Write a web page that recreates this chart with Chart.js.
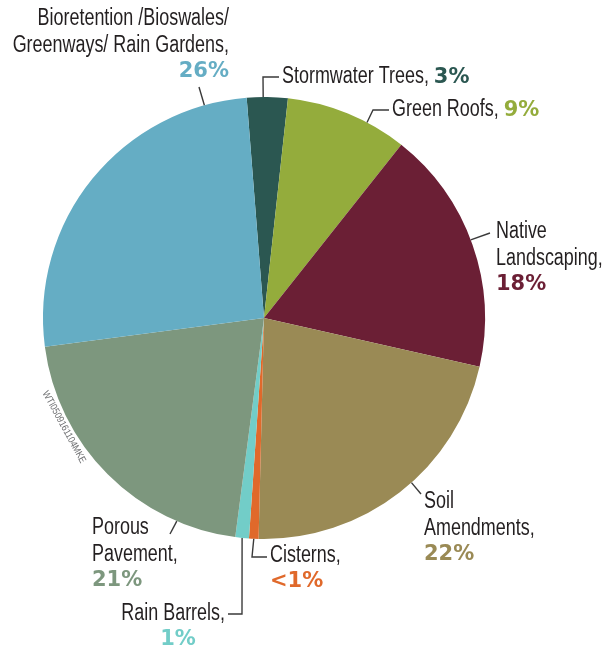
<!DOCTYPE html>
<html>
<head>
<meta charset="utf-8">
<script src="https://cdn.jsdelivr.net/npm/chart.js@4.4.1/dist/chart.umd.min.js"></script>
<style>
  html, body { margin: 0; padding: 0; background: #ffffff; }
  #wrap { position: relative; width: 605px; height: 656px; }
  canvas { display: block; }
</style>
</head>
<body>
<div id="wrap"><canvas id="pie" width="605" height="656"></canvas></div>
<script>
// Green infrastructure practices — share of total
const categories = [
  'Stormwater Trees',
  'Green Roofs',
  'Native Landscaping',
  'Soil Amendments',
  'Cisterns',
  'Rain Barrels',
  'Porous Pavement',
  'Bioretention /Bioswales/ Greenways/ Rain Gardens'
];
const shares = [3, 9, 18, 22, 0.7, 1, 21, 26];
const shareLabels = ['3%', '9%', '18%', '22%', '<1%', '1%', '21%', '26%'];
const sliceColors = ['#2b5751', '#94ac3c', '#6b1f35', '#9a8a55', '#e0692b', '#72cdc8', '#7d977e', '#65adc4'];

// Callout layout: text lines, where the leader leaves the slice (fraction of its arc),
// the leader's bend points and the text anchor.
const callouts = [
  { lines: ['Stormwater Trees,'], inline: true, at: 0.4,
    path: [[263, 77], [279, 77]], x: 282, y: 77, align: 'left' },
  { lines: ['Green Roofs,'], inline: true, at: 0.67,
    path: [[373, 110], [389, 110]], x: 392, y: 110, align: 'left' },
  { lines: ['Native', 'Landscaping,'], at: 0.48,
    path: [[490, 233]], x: 496, y: 232, align: 'left' },
  { lines: ['Soil', 'Amendments,'], at: 0.45,
    path: [[421, 494]], x: 424, y: 502, align: 'left' },
  { lines: ['Cisterns,'], at: 0.5,
    path: [[252, 557], [267, 557]], x: 270, y: 556, align: 'left' },
  { lines: ['Rain Barrels,'], at: 0.5, pctX: 178,
    path: [[242, 614], [228, 614]], x: 225, y: 614, align: 'right' },
  { lines: ['Porous', 'Pavement,'], at: 0.21,
    path: [[170, 534]], x: 92, y: 528, align: 'left' },
  { lines: ['Bioretention /Bioswales/', 'Greenways/ Rain Gardens,'], at: 0.88,
    path: [[199, 87]], x: 229, y: 19, align: 'right' }
];

const TEXT_FONT = '23px "Liberation Sans", Arial, sans-serif';
const PCT_FONT = 'bold 21px "DejaVu Sans", sans-serif';
const NARROW = 0.78;   // horizontal squeeze for the condensed label face
const LINE_H = 27;

// draw text squeezed horizontally; returns the drawn width
function narrowText(ctx, text, x, y, align, sx) {
  const w = ctx.measureText(text).width * sx;
  let left = x;
  if (align === 'right') left = x - w;
  else if (align === 'center') left = x - w / 2;
  ctx.save();
  ctx.translate(left, y);
  ctx.scale(sx, 1);
  ctx.textAlign = 'left';
  ctx.fillText(text, 0, 0);
  ctx.restore();
  return w;
}

const calloutPlugin = {
  id: 'callouts',
  afterDatasetsDraw(chart) {
    const ctx = chart.ctx;
    const meta = chart.getDatasetMeta(0);
    ctx.save();
    ctx.textBaseline = 'middle';
    meta.data.forEach((arc, i) => {
      const c = callouts[i];
      const p = arc.getProps(['x', 'y', 'startAngle', 'endAngle', 'outerRadius'], true);
      const a = p.startAngle + (p.endAngle - p.startAngle) * c.at;
      const sx = p.x + Math.cos(a) * p.outerRadius;
      const sy = p.y + Math.sin(a) * p.outerRadius;

      // leader line
      ctx.beginPath();
      ctx.moveTo(sx, sy);
      c.path.forEach(pt => ctx.lineTo(pt[0], pt[1]));
      ctx.strokeStyle = '#3a3a3a';
      ctx.lineWidth = 1.4;
      ctx.stroke();

      // label text
      ctx.fillStyle = '#231f20';
      ctx.font = TEXT_FONT;
      let lastW = 0;
      c.lines.forEach((ln, k) => { lastW = narrowText(ctx, ln, c.x, c.y + k * LINE_H, c.align, NARROW); });

      ctx.font = PCT_FONT;
      ctx.fillStyle = sliceColors[i];
      if (c.inline) {
        ctx.font = TEXT_FONT;
        const sp = ctx.measureText(' ').width * NARROW;
        ctx.font = PCT_FONT;
        narrowText(ctx, shareLabels[i], c.x + lastW + sp, c.y + 1, 'left', 1);
      } else {
        const py = c.y + c.lines.length * LINE_H - 1;
        if (c.pctX !== undefined) narrowText(ctx, shareLabels[i], c.pctX, py, 'center', 1);
        else narrowText(ctx, shareLabels[i], c.x, py, c.align, 1);
      }
    });

    // small catalogue code along the rim
    ctx.save();
    ctx.translate(64, 427);
    ctx.rotate(61.5 * Math.PI / 180);
    ctx.font = '10px "Liberation Sans", Arial, sans-serif';
    ctx.fillStyle = '#6d6e70';
    narrowText(ctx, 'WTI0509161104MKE', 0, 0, 'center', 0.85);
    ctx.restore();

    ctx.restore();
  }
};

new Chart(document.getElementById('pie'), {
  type: 'pie',
  data: {
    labels: categories,
    datasets: [{
      data: shares,
      backgroundColor: sliceColors,
      borderWidth: 0
    }]
  },
  options: {
    responsive: false,
    animation: false,
    devicePixelRatio: 1,
    rotation: -4.5,
    layout: { padding: { left: 43, right: 120, top: 97, bottom: 117 } },
    plugins: {
      legend: { display: false },
      tooltip: { enabled: false }
    }
  },
  plugins: [calloutPlugin]
});
</script>
</body>
</html>
